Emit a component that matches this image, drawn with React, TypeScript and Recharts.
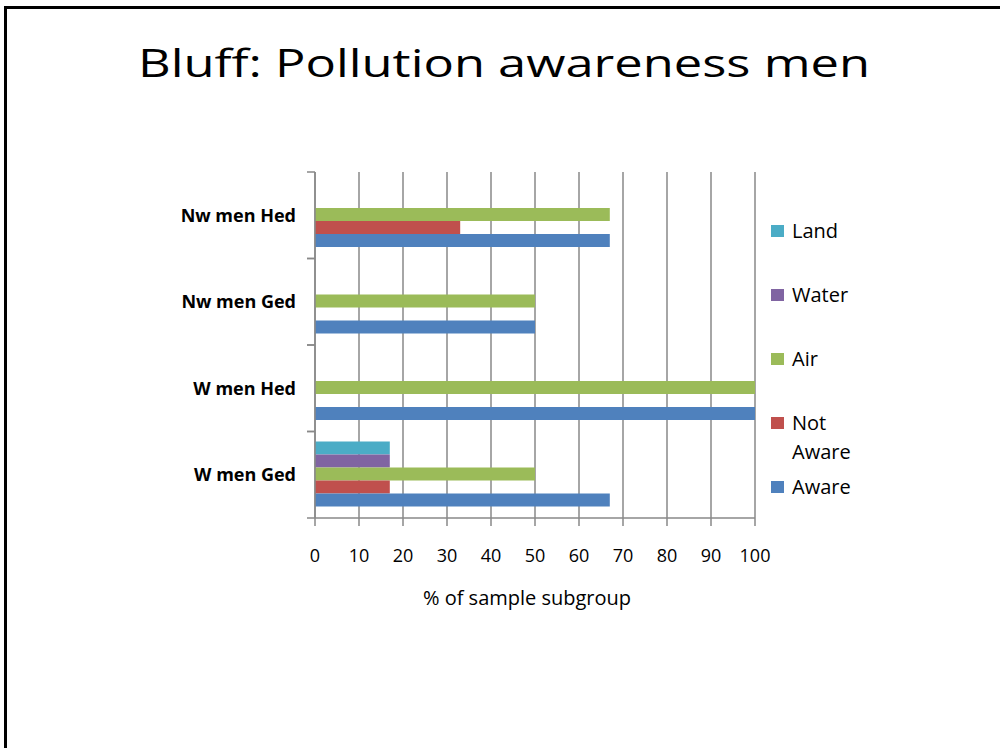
import React from 'react';
import { BarChart, Bar, XAxis, YAxis, CartesianGrid, Legend, Label } from 'recharts';

const categories = ['Nw men Hed', 'Nw men Ged', 'W men Hed', 'W men Ged'];
const awareValues = [67, 50, 100, 67];
const notAwareValues = [33, 0, 0, 17];
const airValues = [67, 50, 100, 50];
const waterValues = [0, 0, 0, 17];
const landValues = [0, 0, 0, 17];
const xTicks = [0, 10, 20, 30, 40, 50, 60, 70, 80, 90, 100];
const legendOrder = ['Land', 'Water', 'Air', 'Not Aware', 'Aware'];

const titleText = 'Bluff: Pollution awareness men';
const xAxisTitle = '% of sample subgroup';

const FONT = "'Open Sans', sans-serif";
const GRID = '#898989';

const data = categories.map((c, i) => ({
  category: c,
  Land: landValues[i],
  Water: waterValues[i],
  Air: airValues[i],
  'Not Aware': notAwareValues[i],
  Aware: awareValues[i],
}));

const Y_TICK_SIZE = 8;
const Y_TICK_MARGIN = 11;

const CategoryTick = (props: any) => {
  const { x, y, payload } = props;
  const half = payload && typeof payload.offset === 'number' ? payload.offset : 0;
  const axisX = x + Y_TICK_SIZE + Y_TICK_MARGIN;
  return (
    <g>
      <line x1={axisX - Y_TICK_SIZE} x2={axisX} y1={y - half} y2={y - half} stroke={GRID} strokeWidth={1.5} />
      <line x1={axisX - Y_TICK_SIZE} x2={axisX} y1={y + half} y2={y + half} stroke={GRID} strokeWidth={1.5} />
      <text x={x} y={y} dy="0.35em" textAnchor="end" fontFamily={FONT} fontWeight="bold" fontSize={18} fill="#000">
        {payload.value}
      </text>
    </g>
  );
};

const LegendContent = (props: any) => {
  const { payload } = props;
  const items = [...(payload || [])].sort(
    (a: any, b: any) => legendOrder.indexOf(a.value) - legendOrder.indexOf(b.value)
  );
  return (
    <div style={{ fontFamily: FONT, fontSize: 20, color: '#000' }}>
      {items.map((item: any) => (
        <div key={item.value} style={{ height: 64, display: 'flex', alignItems: 'flex-start' }}>
          <span
            style={{
              display: 'inline-block',
              width: 13,
              height: 12,
              background: item.color,
              marginTop: 9,
              marginRight: 8,
              flex: '0 0 auto',
            }}
          />
          <span style={{ width: 72, lineHeight: '29px' }}>{item.value}</span>
        </div>
      ))}
    </div>
  );
};

export default function App() {
  return (
    <div style={{ position: 'absolute', left: 0, top: 0, width: 1000, height: 748, overflow: 'hidden', background: '#fff' }}>
      <div
        style={{
          position: 'absolute',
          left: 4,
          top: 6,
          width: 1100,
          height: 900,
          borderTop: '3px solid #000',
          borderLeft: '3px solid #000',
        }}
      />
      <svg style={{ position: 'absolute', left: 0, top: 0 }} width={1000} height={120}>
        <text
          x={504}
          y={77}
          textAnchor="middle"
          textLength={732}
          lengthAdjust="spacingAndGlyphs"
          fontFamily={FONT}
          fontSize={38}
          fill="#000"
        >
          {titleText}
        </text>
      </svg>
      <div style={{ position: 'absolute', left: 0, top: 0 }}>
        <BarChart
          width={1000}
          height={748}
          data={data}
          layout="vertical"
          margin={{ top: 172, right: 245, left: 165, bottom: 130 }}
          barCategoryGap="11.5%"
          barGap={0}
        >
          <CartesianGrid horizontal={false} vertical={true} stroke={GRID} strokeWidth={1.5} />
          <XAxis
            type="number"
            domain={[0, 100]}
            ticks={xTicks}
            interval={0}
            height={100}
            tickSize={8}
            tickMargin={23}
            axisLine={{ stroke: GRID, strokeWidth: 1.5 }}
            tickLine={{ stroke: GRID, strokeWidth: 1.5 }}
            tick={{ fontFamily: FONT, fontSize: 18, fill: '#000' }}
          >
            <Label
              value={xAxisTitle}
              position="insideBottom"
              offset={13}
              dx={-8}
              style={{ fontFamily: FONT, fontSize: 20, fill: '#000' }}
            />
          </XAxis>
          <YAxis
            type="category"
            dataKey="category"
            width={150}
            tickSize={Y_TICK_SIZE}
            tickMargin={Y_TICK_MARGIN}
            tickLine={false}
            axisLine={{ stroke: GRID, strokeWidth: 1.5 }}
            tick={<CategoryTick />}
            interval={0}
          />
          <Legend
            layout="vertical"
            align="center"
            verticalAlign="middle"
            content={<LegendContent />}
            wrapperStyle={{ left: 771, top: 216, width: 120 }}
          />
          <Bar dataKey="Land" fill="#4BACC6" isAnimationActive={false} />
          <Bar dataKey="Water" fill="#8064A2" isAnimationActive={false} />
          <Bar dataKey="Air" fill="#9BBB59" isAnimationActive={false} />
          <Bar dataKey="Not Aware" fill="#C0504D" isAnimationActive={false} />
          <Bar dataKey="Aware" fill="#4F81BD" isAnimationActive={false} />
        </BarChart>
      </div>
    </div>
  );
}
